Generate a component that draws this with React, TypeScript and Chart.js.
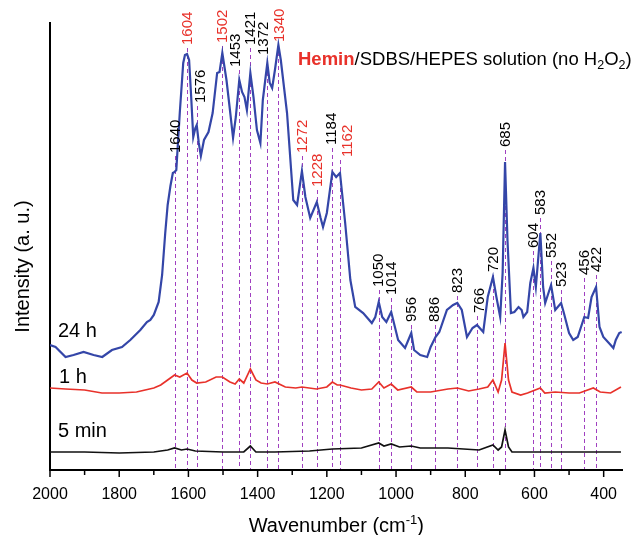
import React, { useEffect, useRef } from 'react';
import { Chart, registerables } from 'chart.js';

Chart.register(...registerables);

const FONT = '"Liberation Sans", Arial, Helvetica, sans-serif';

// ---- data (wavenumber in cm-1, intensity in arbitrary units) ----
const wn24h = [2000, 1984, 1955, 1932, 1903, 1874, 1849, 1821, 1792, 1768, 1739, 1720, 1710, 1700, 1686, 1676, 1667, 1660, 1652, 1645, 1640, 1635, 1625, 1615, 1610, 1604, 1598, 1592, 1586, 1580, 1576, 1570, 1564, 1555, 1542, 1530, 1517, 1510, 1502, 1490, 1480, 1471, 1463, 1453, 1445, 1438, 1431, 1421, 1412, 1402, 1392, 1385, 1372, 1365, 1358, 1350, 1340, 1333, 1315, 1297, 1286, 1272, 1262, 1248, 1229, 1218, 1211, 1200, 1184, 1173, 1162, 1147, 1132, 1118, 1095, 1070, 1060, 1050, 1040, 1028, 1014, 994, 974, 956, 948, 930, 910, 900, 886, 875, 853, 835, 823, 810, 795, 779, 766, 748, 735, 720, 710, 699, 692, 685, 678, 668, 658, 646, 637, 632, 621, 612, 603, 596, 583, 575, 569, 552, 540, 523, 515, 500, 488, 475, 456, 445, 435, 422, 412, 401, 385, 372, 365, 355, 348];
const int24h = [125, 123, 113, 115, 118, 115, 113, 120, 123, 130, 140, 148, 150, 155, 168, 195, 237, 265, 284, 297, 298, 300, 357, 407, 415, 416, 410, 373, 333, 342, 345, 327, 314, 330, 338, 357, 397, 398, 417, 390, 360, 332, 353, 390, 378, 373, 360, 397, 373, 340, 327, 370, 407, 387, 382, 400, 425, 410, 357, 270, 265, 299, 273, 252, 268, 252, 243, 257, 298, 293, 297, 247, 190, 163, 157, 147, 153, 168, 153, 148, 158, 130, 122, 137, 120, 115, 113, 123, 133, 138, 160, 165, 167, 160, 133, 142, 145, 138, 173, 193, 173, 153, 197, 308, 230, 157, 158, 163, 160, 153, 158, 187, 202, 183, 237, 183, 167, 185, 160, 167, 157, 137, 130, 133, 153, 152, 173, 183, 143, 133, 127, 122, 130, 137, 138];

const wn1h = [2000, 1955, 1900, 1850, 1800, 1750, 1700, 1680, 1660, 1640, 1625, 1604, 1590, 1576, 1550, 1520, 1502, 1480, 1465, 1453, 1440, 1421, 1405, 1390, 1372, 1350, 1320, 1290, 1272, 1230, 1200, 1184, 1170, 1162, 1130, 1100, 1070, 1050, 1035, 1014, 995, 956, 940, 900, 850, 823, 790, 760, 735, 720, 705, 695, 685, 675, 665, 640, 620, 583, 570, 540, 500, 470, 430, 410, 380, 350];
const int1h = [82, 81, 80, 77, 77, 78, 82, 85, 90, 95, 93, 97, 90, 87, 88, 93, 93, 88, 86, 91, 87, 101, 90, 87, 86, 88, 83, 82, 83, 81, 83, 88, 85, 85, 82, 80, 81, 88, 82, 86, 80, 83, 78, 78, 81, 82, 79, 81, 83, 90, 78, 90, 127, 90, 78, 75, 77, 82, 77, 78, 77, 77, 82, 78, 77, 83];

const wn5min = [2000, 1900, 1800, 1700, 1660, 1640, 1620, 1604, 1580, 1500, 1440, 1421, 1405, 1350, 1250, 1184, 1100, 1050, 1035, 1014, 990, 956, 930, 850, 760, 720, 705, 695, 685, 675, 665, 600, 500, 400, 350];
const int5min = [18, 18, 17, 18, 20, 22, 20, 21, 19, 18, 18, 24, 18, 18, 19, 21, 22, 27, 24, 26, 23, 24, 22, 22, 20, 25, 20, 23, 40, 23, 18, 18, 18, 18, 18];

const seriesNames = ['24 h', '1 h', '5 min'];

// peak assignments
const peakWn = [1640, 1604, 1576, 1502, 1453, 1421, 1372, 1340, 1272, 1228, 1184, 1162, 1050, 1014, 956, 886, 823, 766, 720, 685, 604, 583, 552, 523, 456, 422];
const hemePeaks = [1604, 1502, 1340, 1272, 1228, 1162];
// layout of the peak labels (intensity level where label starts, horizontal nudge in px)
const peakLabelLevel = [317, 425, 367, 427, 403, 425, 415, 428, 317, 283, 325, 313, 183, 175, 148, 148, 177, 157, 198, 323, 222, 255, 212, 183, 195, 198];
const peakLabelShift = [0, 0, 3, 0, -4, 0, -4, 0, 0, 0, -2, 7, -1, 0, 0, -2, 0, 2, 0, 0, 0, 0, 0, 0, 0, 0];

const xTickValues = [2000, 1800, 1600, 1400, 1200, 1000, 800, 600, 400];
const xMinorTickValues = [1900, 1700, 1500, 1300, 1100, 900, 700, 500];

const BLUE = '#3446A8';
const RED = '#E8312A';
const PURPLE = '#A040C0';

const toXY = (xs: number[], ys: number[]) => xs.map((x, i) => ({ x, y: ys[i] }));

const annotPlugin = {
  id: 'annot',
  beforeDatasetsDraw(chart: any) {
    const { ctx, chartArea, scales } = chart;
    const x = scales.x, y = scales.y;
    ctx.save();
    ctx.strokeStyle = PURPLE;
    ctx.lineWidth = 1;
    ctx.setLineDash([4, 3]);
    peakWn.forEach((wn, i) => {
      const px = Math.round(x.getPixelForValue(wn)) + 0.5;
      const top = y.getPixelForValue(peakLabelLevel[i]) + 3;
      ctx.beginPath();
      ctx.moveTo(px, top);
      ctx.lineTo(px, chartArea.bottom - 1);
      ctx.stroke();
    });
    ctx.restore();
  },
  afterDraw(chart: any) {
    const { ctx, chartArea, scales } = chart;
    const x = scales.x, y = scales.y;
    ctx.save();
    // tick marks
    ctx.strokeStyle = '#000';
    ctx.lineWidth = 1.5;
    xTickValues.forEach((v) => {
      const px = x.getPixelForValue(v);
      ctx.beginPath();
      ctx.moveTo(px, chartArea.bottom);
      ctx.lineTo(px, chartArea.bottom + 7);
      ctx.stroke();
    });
    xMinorTickValues.forEach((v) => {
      const px = x.getPixelForValue(v);
      ctx.beginPath();
      ctx.moveTo(px, chartArea.bottom);
      ctx.lineTo(px, chartArea.bottom + 5);
      ctx.stroke();
    });

    // peak labels
    ctx.font = `15px ${FONT}`;
    ctx.textAlign = 'left';
    ctx.textBaseline = 'middle';
    peakWn.forEach((wn, i) => {
      const px = x.getPixelForValue(wn) + peakLabelShift[i];
      const py = y.getPixelForValue(peakLabelLevel[i]);
      ctx.save();
      ctx.translate(px, py);
      ctx.rotate(-Math.PI / 2);
      ctx.fillStyle = hemePeaks.includes(wn) ? RED : '#000';
      ctx.fillText(String(wn), 0, 1);
      ctx.restore();
    });

    // series names
    ctx.font = `20px ${FONT}`;
    ctx.fillStyle = '#000';
    ctx.textAlign = 'left';
    ctx.textBaseline = 'alphabetic';
    ctx.fillText(seriesNames[0], 58, 337);
    ctx.fillText(seriesNames[1], 59, 383);
    ctx.fillText(seriesNames[2], 58, 437);

    // title
    let tx = 298;
    const ty = 65;
    ctx.font = `bold 18.5px ${FONT}`;
    ctx.fillStyle = RED;
    ctx.fillText('Hemin', tx, ty);
    tx += ctx.measureText('Hemin').width;
    ctx.fillStyle = '#000';
    const parts: [string, boolean][] = [['/SDBS/HEPES solution (no H', false], ['2', true], ['O', false], ['2', true], [')', false]];
    parts.forEach(([s, sub]) => {
      ctx.font = sub ? `12.5px ${FONT}` : `18.5px ${FONT}`;
      ctx.fillText(s, tx, sub ? ty + 4 : ty);
      tx += ctx.measureText(s).width;
    });

    // y title
    ctx.save();
    ctx.font = `20px ${FONT}`;
    ctx.translate(29, 266.5);
    ctx.rotate(-Math.PI / 2);
    ctx.textAlign = 'center';
    ctx.fillText('Intensity (a. u.)', 0, 0);
    ctx.restore();

    // x title
    const a = 'Wavenumber (cm', sup = '-1', b = ')';
    ctx.font = `20px ${FONT}`;
    const wa = ctx.measureText(a).width, wb = ctx.measureText(b).width;
    ctx.font = `13px ${FONT}`;
    const ws = ctx.measureText(sup).width;
    let sx = (chartArea.left + chartArea.right) / 2 - (wa + ws + wb) / 2;
    const sy = 532;
    ctx.font = `20px ${FONT}`;
    ctx.fillText(a, sx, sy);
    sx += wa;
    ctx.font = `13px ${FONT}`;
    ctx.fillText(sup, sx, sy - 8);
    sx += ws;
    ctx.font = `20px ${FONT}`;
    ctx.fillText(b, sx, sy);
    ctx.restore();
  },
};

export default function App() {
  const ref = useRef<HTMLCanvasElement | null>(null);
  useEffect(() => {
    if (!ref.current) return;
    Chart.defaults.font.family = FONT;
    const chart = new Chart(ref.current, {
      type: 'line',
      data: {
        datasets: [
          { label: seriesNames[0], data: toXY(wn24h, int24h), borderColor: BLUE, borderWidth: 2.2, pointRadius: 0, tension: 0 },
          { label: seriesNames[1], data: toXY(wn1h, int1h), borderColor: RED, borderWidth: 1.7, pointRadius: 0, tension: 0 },
          { label: seriesNames[2], data: toXY(wn5min, int5min), borderColor: '#111', borderWidth: 1.7, pointRadius: 0, tension: 0 },
        ],
      },
      options: {
        animation: false,
        responsive: false,
        layout: { padding: { left: 0, top: 23, right: 11.3, bottom: 0 } },
        plugins: { legend: { display: false }, tooltip: { enabled: false } },
        scales: {
          x: {
            type: 'linear',
            reverse: true,
            min: 345,
            max: 2000,
            afterBuildTicks: (s: any) => { s.ticks = xTickValues.map((v) => ({ value: v })); },
            afterFit: (s: any) => { s.height = 65; },
            ticks: { autoSkip: false, maxRotation: 0, padding: 7, color: '#000', font: { size: 16 }, callback: (v: any) => String(v) },
            grid: { display: false },
            border: { display: true, color: '#000', width: 2 },
          },
          y: {
            min: 0,
            max: 447,
            afterFit: (s: any) => { s.width = 50; },
            ticks: { display: false },
            grid: { display: false },
            border: { display: true, color: '#000', width: 2 },
          },
        },
      },
      plugins: [annotPlugin],
    });
    return () => chart.destroy();
  }, []);
  return (
    <div style={{ position: 'fixed', left: 0, top: 0, width: 634, height: 535, background: '#fff' }}>
      <canvas ref={ref} width={634} height={535} style={{ display: 'block' }} />
    </div>
  );
}
